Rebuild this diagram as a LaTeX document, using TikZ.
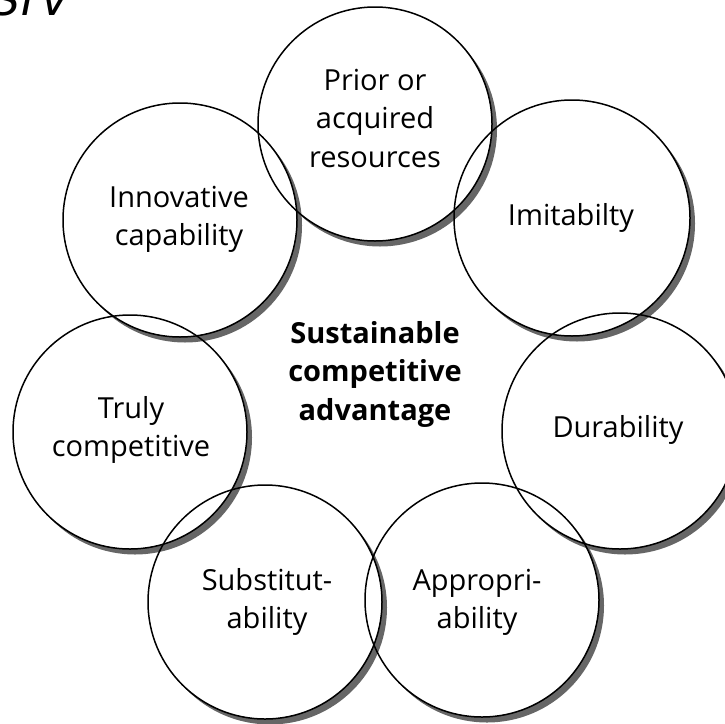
\documentclass[tikz,border=0pt]{standalone}
\usepackage{fontspec}
\setmainfont{Open Sans}
\newfontfamily\handfont{DejaVu Sans}
\newcommand{\lbltab}[1]{\begin{tabular}[t]{@{}c@{}}#1\end{tabular}}
\newcommand{\shadowcres}[3]{%
  \begin{scope}
    \clip (#1+5,#2+5.5) circle (#3pt);
    \fill[black!60, even odd rule] (#1-200,#2-200) rectangle (#1+200,#2+200) (#1,#2) circle (#3pt);
  \end{scope}}
\begin{document}
\begin{tikzpicture}[x=1pt,y=-1pt,
  ring/.style={draw=black, line width=1.5pt, circle, inner sep=0pt, outer sep=0pt},
  lbl/.style={anchor=base, inner sep=0pt, font=\fontsize{29}{38.5}\selectfont},
  hub/.style={anchor=base, inner sep=0pt, font=\fontsize{29}{38.5}\selectfont\bfseries},
  hand/.style={anchor=base west, inner sep=0pt, font=\handfont\itshape\fontsize{44}{44}\selectfont}]
\useasboundingbox (0,0) rectangle (725,723);
% shadows
\shadowcres{375}{124}{117}
\shadowcres{572}{218}{118}
\shadowcres{620}{431}{118}
\shadowcres{482}{600}{117}
\shadowcres{265}{602}{117}
\shadowcres{130}{432}{117}
\shadowcres{180}{220}{117}
% circles
\node[ring, minimum size=234pt] (cP) at (375,124) {};
\node[ring, minimum size=236pt] (cI) at (572,218) {};
\node[ring, minimum size=236pt] (cD) at (620,431) {};
\node[ring, minimum size=234pt] (cA) at (482,600) {};
\node[ring, minimum size=234pt] (cS) at (265,602) {};
\node[ring, minimum size=234pt] (cT) at (130,432) {};
\node[ring, minimum size=234pt] (cN) at (180,220) {};
% labels
\node[lbl] (tP) at (375,90) {\lbltab{Prior or\\acquired\\resources}};
\node[lbl] (tI) at (571,225) {Imitabilty};
\node[lbl] (tD) at (618,437) {Durability};
\node[lbl] (tA) at (477,590) {\lbltab{Appropri-\\ability}};
\node[lbl] (tS) at (267,590) {\lbltab{Substitut-\\ability}};
\node[lbl] (tT) at (131,418) {\lbltab{Truly\\competitive}};
\node[lbl] (tN) at (179,207) {\lbltab{Innovative\\capability}};
\node[hub] (tC) at (375,343) {\lbltab{Sustainable\\competitive\\advantage}};
% handwritten note (cut off at the top edge, as in the reference)
\node[hand] (note) at (-8,15) {S\kern1pt I\kern6pt V};
\end{tikzpicture}
\end{document}
